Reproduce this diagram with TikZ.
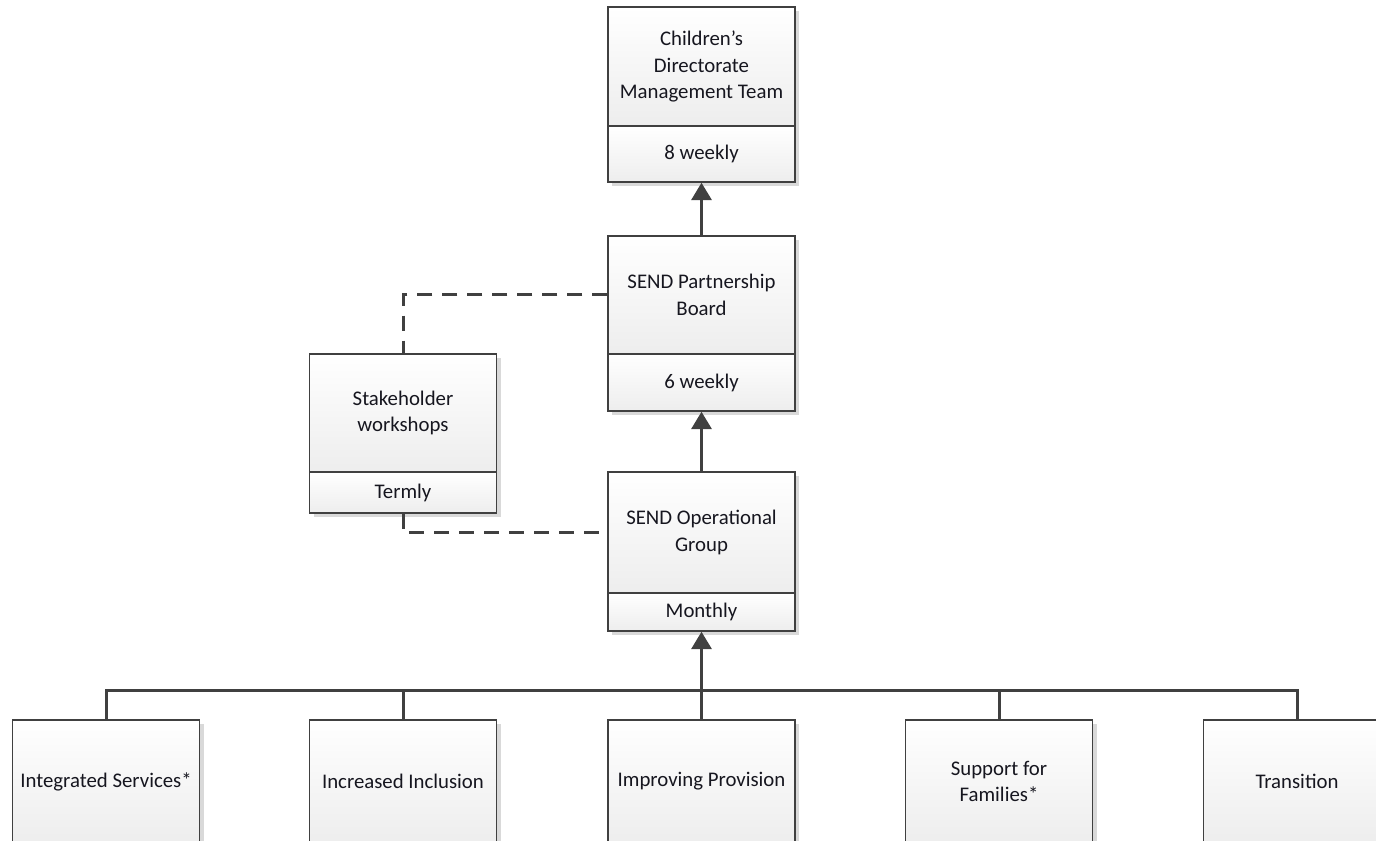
\documentclass[tikz,border=0pt]{standalone}
\usepackage{fontspec}
\setmainfont{Carlito}
\usetikzlibrary{arrows.meta,shadows}
\definecolor{linec}{HTML}{404040}
\definecolor{txt}{HTML}{16161F}
\definecolor{shd}{HTML}{D9D9D9}
\tikzset{
  box/.style={draw=linec, line width=1.1pt, top color=white, bottom color=black!7,
    general shadow={fill=shd, shadow xshift=3pt, shadow yshift=-3pt},
    minimum width=140.25pt, inner sep=0pt, align=center, text=txt,
    font=\fontsize{15.6}{20}\selectfont},
  conn/.style={draw=linec, line width=2.25pt},
  arr/.style={conn, -{Triangle[width=15pt,length=13pt]}},
  dashconn/.style={draw=linec, line width=2.25pt, dash pattern=on 11.25pt off 7.5pt}
}
\begin{document}
\begin{tikzpicture}[x=0.75pt,y=-0.75pt]
\clip (0,0) rectangle (1376,841);
\fill[white] (0,0) rectangle (1376,841);
% top
\node[box, minimum height=89.25pt] (cdmt) at (701.5,66.5) {Children’s\\Directorate\\Management Team};
\node[box, minimum height=42pt] (cdmtf) at (701.5,154) {8 weekly};
% partnership board
\node[box, minimum height=88.5pt] (spb) at (701.5,295) {SEND Partnership\\Board};
\node[box, minimum height=42.75pt] (spbf) at (701.5,382.5) {6 weekly};
% stakeholder
\node[box, minimum height=88.5pt] (stk) at (403,413) {Stakeholder\\workshops};
\node[box, minimum height=30.75pt] (stkf) at (403,492.5) {Termly};
% operational group
\node[box, minimum height=90.75pt] (sog) at (701.5,532.5) {SEND Operational\\Group};
\node[box, minimum height=28.5pt] (sogf) at (701.5,612) {Monthly};
% bottom row
\node[box, minimum height=92.25pt] (int) at (106,781.5) {Integrated Services*};
\node[box, minimum height=92.25pt] (inc) at (403,781.5) {Increased Inclusion};
\node[box, minimum height=92.25pt] (imp) at (701.5,781.5) {Improving Provision};
\node[box, minimum height=92.25pt] (sup) at (999,781.5) {Support for\\Families*};
\node[box, minimum height=92.25pt] (tra) at (1297,781.5) {Transition};
% connectors
\coordinate (bus) at (701.5,690);
\draw[conn] (int.north) |- (bus) -| (tra.north);
\draw[conn] (inc.north) -- (inc.north |- bus);
\draw[conn] (sup.north) -- (sup.north |- bus);
\draw[arr] (imp.north) -- (sogf.south);
\draw[arr] (sog.north) -- (spbf.south);
\draw[arr] (spb.north) -- (cdmtf.south);
\draw[dashconn] (spb.west) -| (stk.north);
\draw[dashconn] (stkf.south) |- (sog.west);
\end{tikzpicture}
\end{document}
